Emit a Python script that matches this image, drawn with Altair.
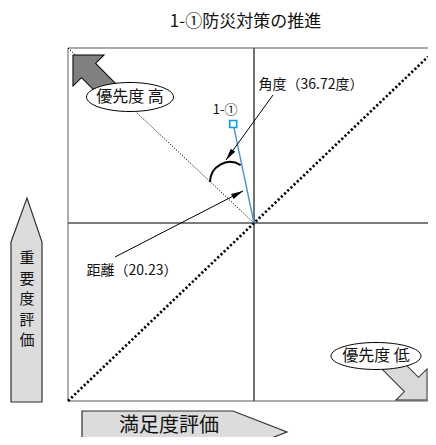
import math
import altair as alt
import pandas as pd

# ---------------- data ----------------
item_labels = ["1-①"]
satisfaction = [-2.91]
importance = [20.02]
chart_title = "1-①防災対策の推進"
angle_label = "角度（36.72度）"
distance_label = "距離（20.23）"
high_label = "優先度 高"
low_label = "優先度 低"
y_axis_chars = ["重", "要", "度", "評", "価"]
x_axis_label = "満足度評価"
x_domain = [-26.0, 24.32]
y_domain = [-36.0, 35.4]
diag_x = [-26.0, 24.32]
diag_y = [-36.0, 33.65]
guide_x = [-26.0, 0.0]
guide_y = [35.4, 0.0]

# ---------------- layout ----------------
W, H = 360, 353
OX, OY = 68, 48
PAD = {"left": 60, "top": 40, "right": 0, "bottom": 36}
FONT = "Noto Sans CJK JP"

xs = alt.Scale(domain=x_domain, nice=False, zero=False)
ys = alt.Scale(domain=y_domain, nice=False, zero=False)


def X(f="x"):
    return alt.X(f"{f}:Q", scale=xs, axis=None)


def Y(f="y"):
    return alt.Y(f"{f}:Q", scale=ys, axis=None)


def px(x):
    return x - OX


def py(y):
    return y - OY


one = alt.Data(values=[{"a": 1}])


def poly_path(pts, cx, cy, half):
    return "M " + " L ".join(f"{(x - cx) / half:.4f} {(y - cy) / half:.4f}" for x, y in pts) + " Z"


def ellipse_path(ry):
    k = 0.5523
    return (f"M 1 0 C 1 {ry*k:.4f} {k:.4f} {ry:.4f} 0 {ry:.4f} "
            f"C {-k:.4f} {ry:.4f} -1 {ry*k:.4f} -1 0 "
            f"C -1 {-ry*k:.4f} {-k:.4f} {-ry:.4f} 0 {-ry:.4f} "
            f"C {k:.4f} {-ry:.4f} 1 {-ry*k:.4f} 1 0 Z")


def head(tip, frm, length=12):
    dx, dy = tip[0] - frm[0], tip[1] - frm[1]
    d = math.hypot(dx, dy)
    ux, uy = dx / d, dy / d
    ang = math.degrees(math.atan2(ux, -uy)) % 360
    return tip[0] - ux * length / 2, tip[1] - uy * length / 2, ang


layers = []

# frame (left/top/bottom) and centre cross
vdf = pd.DataFrame({"x": [x_domain[0]]})
hdf = pd.DataFrame({"y": [y_domain[1], y_domain[0]]})
layers.append(alt.Chart(vdf).mark_rule(color="#8f8f8f", strokeWidth=1.4).encode(x=X()))
layers.append(alt.Chart(hdf).mark_rule(color="#8f8f8f", strokeWidth=1.4).encode(y=Y()))
layers.append(alt.Chart(pd.DataFrame({"x": [0.0]})).mark_rule(color="#505050", strokeWidth=1.6).encode(x=X()))
layers.append(alt.Chart(pd.DataFrame({"y": [0.0]})).mark_rule(color="#505050", strokeWidth=1.6).encode(y=Y()))

# diagonals
ddf = pd.DataFrame({"x": diag_x, "y": diag_y, "o": [0, 1]})
layers.append(alt.Chart(ddf).mark_line(color="black", strokeWidth=2.6, strokeDash=[2.2, 2.2]).encode(
    x=X(), y=Y(), order="o:Q"))
gdf = pd.DataFrame({"x": guide_x, "y": guide_y, "o": [0, 1]})
layers.append(alt.Chart(gdf).mark_line(color="black", strokeWidth=1, strokeDash=[1.2, 1.6]).encode(
    x=X(), y=Y(), order="o:Q"))

# vector line + point + label
ldf = pd.DataFrame({"x": [0.0, satisfaction[0]], "y": [0.0, importance[0]], "o": [0, 1]})
layers.append(alt.Chart(ldf).mark_line(color="#4a90d9", strokeWidth=1.4).encode(x=X(), y=Y(), order="o:Q"))
pdf = pd.DataFrame({"x": satisfaction, "y": importance, "label": item_labels})
layers.append(alt.Chart(pdf).mark_point(shape="square", size=49, filled=True, fill="white",
                                        stroke="#00a0e9", strokeWidth=1.6, opacity=1).encode(x=X(), y=Y()))
layers.append(alt.Chart(pdf).mark_text(font=FONT, fontSize=13, color="#111", dx=-8, dy=-14).encode(
    x=X(), y=Y(), text="label:N"))

# angle arc
layers.append(alt.Chart(one).mark_arc(radius=21, radius2=19, theta=math.radians(270),
                                      theta2=math.radians(392), color="black").encode(
    x=alt.value(px(230)), y=alt.value(py(182))))

# annotation leader lines + heads
arrow_head = "M 0 -1 L 0.45 1 L -0.45 1 Z"
for frm, tip in [((273, 95), (226, 160)), ((115, 257), (243, 191))]:
    layers.append(alt.Chart(one).mark_rule(color="black", strokeWidth=1).encode(
        x=alt.value(px(frm[0])), y=alt.value(py(frm[1])),
        x2=alt.value(px(tip[0])), y2=alt.value(py(tip[1]))))
    cx, cy, ang = head(tip, frm)
    layers.append(alt.Chart(one).mark_point(shape=arrow_head, size=144, filled=True, color="black",
                                            opacity=1, angle=ang).encode(
        x=alt.value(px(cx)), y=alt.value(py(cy))))

layers.append(alt.Chart(one).mark_text(font=FONT, fontSize=14, color="#111", text=angle_label).encode(
    x=alt.value(px(311)), y=alt.value(py(85))))
layers.append(alt.Chart(one).mark_text(font=FONT, fontSize=14, color="#111", text=distance_label).encode(
    x=alt.value(px(132)), y=alt.value(py(271))))

# block arrows for priority
block = poly_path([(0, -32), (22, -10), (10, -10), (10, 32), (-10, 32), (-10, -10), (-22, -10)], 0, 0, 32)
layers.append(alt.Chart(one).mark_point(shape=block, size=4096, filled=True, fill="#808080",
                                        stroke="black", strokeWidth=1, opacity=1, angle=315).encode(
    x=alt.value(px(95.6)), y=alt.value(py(77.6))))
layers.append(alt.Chart(one).mark_point(shape=block, size=4096, filled=True, fill="#d9d9d9",
                                        stroke="#303030", strokeWidth=1, opacity=1, angle=135).encode(
    x=alt.value(px(404.4)), y=alt.value(py(377.4))))

# ellipses
for (cx, cy, w, h, txt) in [(130, 97, 87, 29, high_label), (376, 356, 90, 27, low_label)]:
    layers.append(alt.Chart(one).mark_point(shape=ellipse_path(h / w), size=w * w, filled=True,
                                            fill="white", stroke="black", strokeWidth=1, opacity=1).encode(
        x=alt.value(px(cx)), y=alt.value(py(cy))))
    layers.append(alt.Chart(one).mark_text(font=FONT, fontSize=16, color="#111", text=txt).encode(
        x=alt.value(px(cx)), y=alt.value(py(cy))))

# axis-title block arrows
vpts = [(11, 242), (27, 198), (42, 242), (42, 402), (11, 402)]
layers.append(alt.Chart(one).mark_point(shape=poly_path(vpts, 26.5, 300, 102), size=204 * 204, filled=True,
                                        fill="#dcdcdc", stroke="#303030", strokeWidth=1.2, opacity=1).encode(
    x=alt.value(px(26.5)), y=alt.value(py(300))))
for i, ch in enumerate(y_axis_chars):
    layers.append(alt.Chart(one).mark_text(font=FONT, fontSize=15, color="#111", text=ch).encode(
        x=alt.value(px(27)), y=alt.value(py(258 + 20.5 * i))))

SHIFT = -11
hpts = [(82, 422 + SHIFT), (233, 422 + SHIFT), (287, 443 + SHIFT), (233, 464 + SHIFT), (82, 464 + SHIFT)]
layers.append(alt.Chart(one).mark_point(shape=poly_path(hpts, 184.5, 443 + SHIFT, 102.5), size=205 * 205,
                                        filled=True, fill="#dcdcdc", stroke="#303030", strokeWidth=1.2,
                                        opacity=1).encode(
    x=alt.value(px(184.5)), y=alt.value(py(443 + SHIFT))))
layers.append(alt.Chart(one).mark_text(font=FONT, fontSize=20, color="#111", text=x_axis_label).encode(
    x=alt.value(px(169)), y=alt.value(py(437 + SHIFT))))

# title
layers.append(alt.Chart(one).mark_text(font=FONT, fontSize=17, color="#111", text=chart_title).encode(
    x=alt.value(px(245.5)), y=alt.value(py(22))))

chart = alt.layer(*layers).properties(
    width=W, height=H, padding=PAD, autosize=alt.AutoSizeParams(type="none")
).configure_view(strokeWidth=0)

chart.save("out.html", embed_options={"renderer": "svg", "actions": False})
